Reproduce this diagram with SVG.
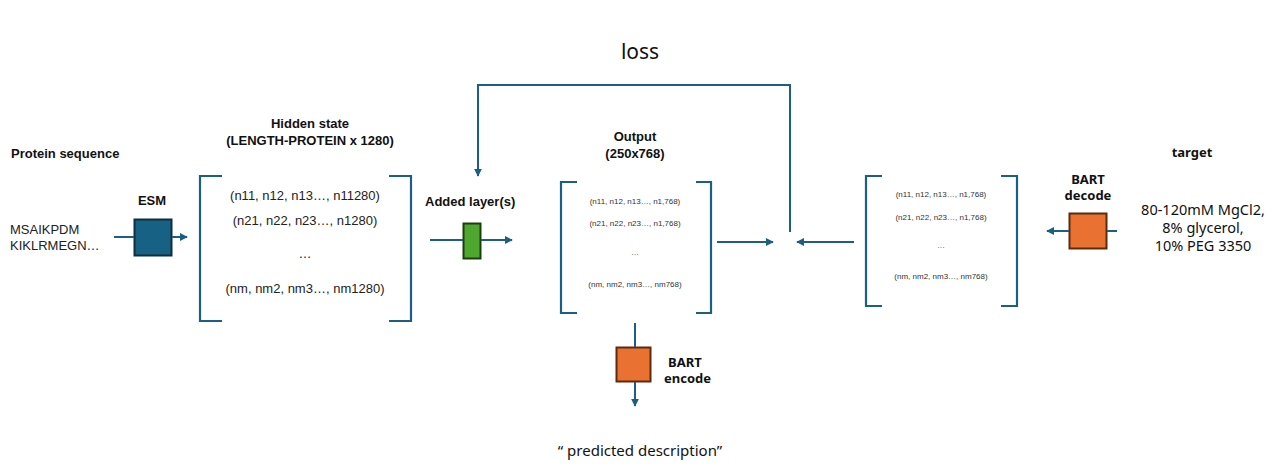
<svg xmlns="http://www.w3.org/2000/svg" width="1278" height="476" viewBox="0 0 1278 476">
<style>
.ln{stroke:#1B5F82;stroke-width:2;fill:none}
.br{stroke:#1B5F82;stroke-width:2.2;fill:none}
.ar{fill:none;stroke:#1B5F82;stroke-width:2}
.b{font-family:"Liberation Sans",Arial,sans-serif;font-weight:bold;font-size:13px;fill:#111}
.t{font-family:"Liberation Sans",Arial,sans-serif;font-size:13px;fill:#222}
.s{font-family:"Liberation Sans",Arial,sans-serif;font-size:8px;fill:#333}
.n{font-family:"Noto Sans","Open Sans",sans-serif;font-size:15px;fill:#111}
.nb{font-family:"Noto Sans","Open Sans",sans-serif;font-weight:bold;font-size:13px;fill:#111}
</style>
<defs>
<marker id="ah" viewBox="0 0 10 10" refX="9" refY="5" markerWidth="4" markerHeight="4" orient="auto">
<path d="M0,0 L10,5 L0,10 z" fill="#1B5F82"/>
</marker>
</defs>
<rect width="1278" height="476" fill="#fff"/>

<g id="input">
<text class="b" x="11" y="158">Protein sequence</text>
<text class="t" x="10" y="234">MSAIKPDM</text>
<text class="t" x="10" y="250">KIKLRMEGN…</text>
</g>

<g id="esm">
<text class="b" x="152" y="205" text-anchor="middle">ESM</text>
<rect x="134.5" y="219.5" width="37" height="36" fill="#176184" stroke="#0F2E40" stroke-width="2"/>
</g>

<g id="hidden">
<text class="b" x="310" y="128" text-anchor="middle">Hidden state</text>
<text class="b" x="310" y="145" text-anchor="middle">(LENGTH-PROTEIN x 1280)</text>
<path class="br" d="M222,176 H200 V321 H222"/>
<path class="br" d="M389,176 H411 V321 H389"/>
<text class="t" x="305" y="200" text-anchor="middle">(n11, n12, n13…, n11280)</text>
<text class="t" x="305" y="225" text-anchor="middle">(n21, n22, n23…, n1280)</text>
<text class="t" x="305" y="258" text-anchor="middle">…</text>
<text class="t" x="305" y="293" text-anchor="middle">(nm, nm2, nm3…, nm1280)</text>
</g>

<g id="added">
<text class="b" x="425" y="206">Added layer(s)</text>
<rect x="463.5" y="223.5" width="17" height="35" fill="#4EA72E" stroke="#1D3D10" stroke-width="2"/>
</g>

<g id="output">
<text class="b" x="635" y="141" text-anchor="middle">Output</text>
<text class="b" x="635" y="158" text-anchor="middle">(250x768)</text>
<path class="br" d="M577,182 H561 V313 H577"/>
<path class="br" d="M696,182 H711 V313 H696"/>
<text class="s" x="635" y="204" text-anchor="middle">(n11, n12, n13…, n1,768)</text>
<text class="s" x="635" y="226" text-anchor="middle">(n21, n22, n23…, n1,768)</text>
<text class="s" x="635" y="255" text-anchor="middle">…</text>
<text class="s" x="635" y="287" text-anchor="middle">(nm, nm2, nm3…, nm768)</text>
</g>

<g id="target-matrix">
<path class="br" d="M882,176 H866 V306 H882"/>
<path class="br" d="M1001,176 H1017 V306 H1001"/>
<text class="s" x="941" y="197" text-anchor="middle">(n11, n12, n13…, n1,768)</text>
<text class="s" x="941" y="220" text-anchor="middle">(n21, n22, n23…, n1,768)</text>
<text class="s" x="941" y="248" text-anchor="middle">…</text>
<text class="s" x="941" y="279" text-anchor="middle">(nm, nm2, nm3…, nm768)</text>
</g>

<g id="bart-decode">
<text class="nb" x="1088" y="184" text-anchor="middle">BART</text>
<text class="nb" x="1088" y="200" text-anchor="middle">decode</text>
<rect x="1069.5" y="213.5" width="37" height="35" fill="#E97132" stroke="#5E2A0E" stroke-width="2"/>
</g>

<g id="target">
<text class="nb" x="1192" y="157" text-anchor="middle">target</text>
<text class="n" x="1203" y="215" text-anchor="middle" style="font-size:14.5px">80-120mM MgCl2,</text>
<text class="n" x="1203" y="233" text-anchor="middle" style="font-size:14.5px">8% glycerol,</text>
<text class="n" x="1203" y="251" text-anchor="middle" style="font-size:14.5px">10% PEG 3350</text>
</g>

<g id="bart-encode">
<rect x="616.5" y="347.5" width="34" height="34" fill="#E97132" stroke="#5E2A0E" stroke-width="2"/>
<text class="nb" x="668" y="367">BART</text>
<text class="nb" x="664" y="383">encode</text>
</g>

<g id="loss">
<text class="n" x="640" y="59" text-anchor="middle" style="font-size:21px">loss</text>
</g>

<g id="prediction">
<text class="n" x="640" y="456" text-anchor="middle">“ predicted description”</text>
</g>

<g id="connectors">
<line class="ln" x1="114" y1="237" x2="134" y2="237"/>
<line class="ar" x1="172" y1="237" x2="187" y2="237" marker-end="url(#ah)"/>
<line class="ln" x1="430" y1="240" x2="463" y2="240"/>
<line class="ar" x1="481" y1="240" x2="512" y2="240" marker-end="url(#ah)"/>
<line class="ar" x1="717" y1="242" x2="773" y2="242" marker-end="url(#ah)"/>
<line class="ar" x1="854" y1="242" x2="797" y2="242" marker-end="url(#ah)"/>
<path class="ar" d="M790,232 V85 H478 V176" marker-end="url(#ah)"/>
<line class="ln" x1="1117" y1="231" x2="1107" y2="231"/>
<line class="ar" x1="1069" y1="231" x2="1047" y2="231" marker-end="url(#ah)"/>
<line class="ln" x1="635" y1="323" x2="635" y2="347"/>
<line class="ar" x1="635" y1="382" x2="635" y2="406" marker-end="url(#ah)"/>
</g>
</svg>
